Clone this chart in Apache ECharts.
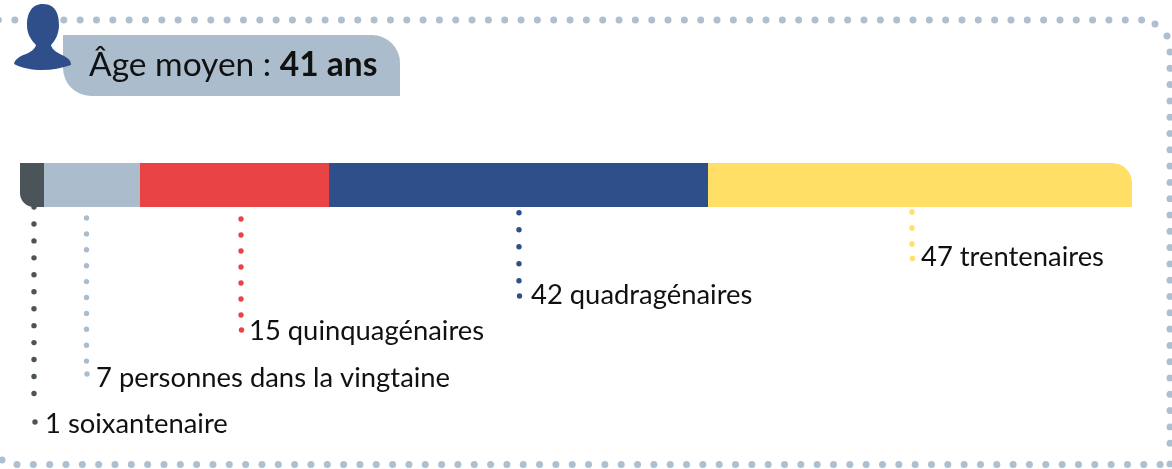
<!DOCTYPE html>
<html>
<head>
<meta charset="utf-8">
<style>html,body{margin:0;padding:0;background:#fff}#chart{width:1172px;height:469px}</style>
<script src="https://cdn.jsdelivr.net/npm/echarts@6/dist/echarts.min.js"></script>
</head>
<body>
<div id="chart"></div>
<script>
// segment widths as drawn in the picture (they are not proportional to the counts)
const shares = [2.16, 8.63, 17.0, 34.08, 38.13];
const counts = [1, 7, 15, 42, 47];
const groups = ['soixantenaire', 'personnes dans la vingtaine', 'quinquagénaires', 'quadragénaires', 'trentenaires'];
const colors = ['#4b5458', '#abbdcd', '#ea4345', '#2f4f8a', '#ffdf66'];
const titleText = 'Âge moyen : ';
const titleBold = '41 ans';

const FONT = 'Lato';
const DOT = '#adc0d1';

const chart = echarts.init(document.getElementById('chart'), null, {renderer: 'canvas'});

// where each callout goes: leader x, first dot y, step, last dot, then text spot
const callouts = [
  {x: 34, y0: 207, step: 16.95, yEnd: 409, lastX: 35, lastY: 422, tx: 45, ty: 424},
  {x: 86.5, y0: 218, step: 15.9, yEnd: 361, lastX: 87, lastY: 374, tx: 96, ty: 378},
  {x: 241, y0: 219, step: 16, yEnd: 315, lastX: 241.5, lastY: 330, tx: 249, ty: 331},
  {x: 519, y0: 212.7, step: 17, yEnd: 281, lastX: 519.5, lastY: 296, tx: 531, ty: 295.5},
  {x: 912, y0: 212, step: 16, yEnd: 244, lastX: 912.5, lastY: 258.5, tx: 921, ty: 257.5}
];

function dot(cx, cy, r, fill, z) {
  return {type: 'circle', silent: true, z: z || 1, shape: {cx: cx, cy: cy, r: r}, style: {fill: fill}};
}

const graphics = [];

// dotted frame
for (let x = -1.5; x < 1143; x += 16.33) graphics.push(dot(x, 20, 3.5, DOT));
graphics.push(dot(1155, 24, 3.5, DOT), dot(1167, 36, 3.5, DOT));
for (let y = 52; y < 450; y += 16.3) graphics.push(dot(1170, y, 3.5, DOT));
graphics.push(dot(1170, 464, 3.5, DOT));
for (let x = 17; x < 1165; x += 16.33) graphics.push(dot(x, 464.5, 3.5, DOT));
graphics.push(dot(2, 460, 3.5, DOT));

// title badge
graphics.push({
  type: 'rect', silent: true, z: 2,
  shape: {x: 63, y: 35, width: 337, height: 61, r: [0, 28, 0, 28]},
  style: {fill: colors[1]}
});
graphics.push({
  type: 'text', silent: true, z: 3, x: 89, y: 65,
  style: {
    text: '{a|' + titleText + '}{b|' + titleBold + '}',
    verticalAlign: 'middle',
    rich: {
      a: {font: '400 33.5px ' + FONT, fill: '#111'},
      b: {font: '700 33.5px ' + FONT, fill: '#111'}
    }
  }
});

// leaders and their labels
callouts.forEach(function (c, i) {
  for (let y = c.y0; y <= c.yEnd + 0.5; y += c.step) graphics.push(dot(c.x, y, 2.7, colors[i], 5));
  graphics.push(dot(c.lastX, c.lastY, 2.7, colors[i], 5));
  graphics.push({
    type: 'text', silent: true, z: 5, x: c.tx, y: c.ty,
    style: {
      text: counts[i] + ' ' + groups[i],
      font: '400 27.4px ' + FONT, fill: '#111', verticalAlign: 'middle'
    }
  });
});

const radii = [[0, 0, 0, 14], 0, 0, 0, [0, 20, 0, 0]];

const barSeries = shares.map(function (v, i) {
  return {
    name: groups[i],
    type: 'bar',
    stack: 'age',
    barWidth: 44,
    data: [v],
    itemStyle: {color: colors[i], borderRadius: radii[i]}
  };
});

// person icon, custom series because the graphic component has no path element
const iconSeries = {
  type: 'custom',
  coordinateSystem: 'none',
  silent: true,
  z: 10,
  data: [0],
  renderItem: function () {
    return {
      type: 'path',
      shape: {
        pathData: 'M43 4 C56 4 59 15 59 25 C59 34 55 41 51 45 C52 50 58 53 62 55 C68 58 71 60 71 65 C62 68 52 70 42 70 C32 70 22 68 14 64 C15 59 20 56 26 54 C31 52 35 49 36 45 C31 40 27 34 27 25 C27 14 31 4 43 4 Z',
        x: 14, y: 4, width: 57, height: 66
      },
      style: {fill: colors[3]}
    };
  }
};

chart.setOption({
  animation: false,
  grid: {left: 20, top: 163, width: 1112, height: 44},
  xAxis: {type: 'value', min: 0, max: 100, show: false},
  yAxis: {type: 'category', data: ['Âge'], show: false},
  series: barSeries.concat(iconSeries),
  graphic: graphics
});
</script>
</body>
</html>
